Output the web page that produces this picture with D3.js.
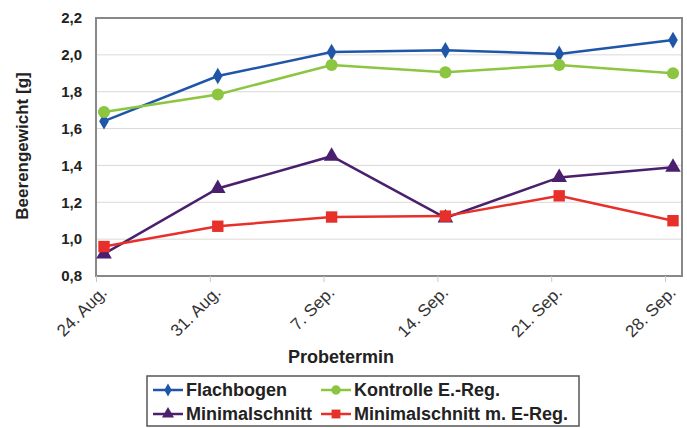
<!DOCTYPE html>
<html>
<head>
<meta charset="utf-8">
<script src="https://cdn.jsdelivr.net/npm/d3@7"></script>
<style>
  body { margin: 0; background: #fff; }
  svg text { font-family: "Liberation Sans", Arial, sans-serif; }
</style>
</head>
<body>
<svg id="chart"></svg>
<script>
// Daten
const termine = ["24. Aug.", "31. Aug.", "7. Sep.", "14. Sep.", "21. Sep.", "28. Sep."];
const flachbogen = [1.64, 1.885, 2.015, 2.025, 2.005, 2.08];
const kontrolle = [1.69, 1.785, 1.945, 1.905, 1.945, 1.90];
const minimalschnitt = [0.92, 1.275, 1.45, 1.115, 1.335, 1.39];
const minimalEReg = [0.96, 1.07, 1.12, 1.125, 1.235, 1.10];
const yTicks = [0.8, 1.0, 1.2, 1.4, 1.6, 1.8, 2.0, 2.2];

const series = [
    { name: "Flachbogen", values: flachbogen, color: "#1f56a8", symbol: d3.symbolDiamond, size: 80 },
    { name: "Kontrolle E.-Reg.", values: kontrolle, color: "#8cc540", symbol: d3.symbolCircle, size: 115 },
    { name: "Minimalschnitt", values: minimalschnitt, color: "#4a1f6e", symbol: d3.symbolTriangle, size: 105 },
    { name: "Minimalschnitt m. E-Reg.", values: minimalEReg, color: "#e8302b", symbol: d3.symbolSquare, size: 130 }
];

const W = 687, H = 428;
const plot = { left: 96, top: 18, right: 682, bottom: 276 };
const svg = d3.select("#chart").attr("width", W).attr("height", H);

// x: Termine als Punkte, Tickmarken leicht links davon
const x = d3.scalePoint().domain(termine).range([104, 673]);
const tickShift = -8;
const y = d3.scaleLinear().domain([0.8, 2.2]).range([plot.bottom, plot.top]);
const fmt = d => d.toFixed(1).replace(".", ",");

// Gitterlinien
svg.append("g")
    .selectAll("line")
    .data(yTicks.slice(1, -1))
    .enter().append("line")
    .attr("x1", plot.left).attr("x2", plot.right)
    .attr("y1", d => y(d)).attr("y2", d => y(d))
    .attr("stroke", "#d9d9d9").attr("stroke-width", 1);

// Rahmen
svg.append("rect")
    .attr("x", plot.left).attr("y", plot.top)
    .attr("width", plot.right - plot.left).attr("height", plot.bottom - plot.top)
    .attr("fill", "none").attr("stroke", "#888").attr("stroke-width", 2);

// y-Achse
const yAxis = svg.append("g")
    .attr("transform", `translate(${plot.left},0)`)
    .call(d3.axisLeft(y).tickValues(yTicks).tickFormat(fmt).tickSize(0).tickPadding(14));
yAxis.select(".domain").remove();
yAxis.selectAll("text")
    .attr("font-size", 15).attr("font-weight", "bold").attr("fill", "#222");

// x-Achse
const xAxis = svg.append("g")
    .attr("transform", `translate(${tickShift},${plot.bottom})`)
    .call(d3.axisBottom(x).tickSize(6).tickFormat(""));
xAxis.select(".domain").remove();
xAxis.selectAll("line").attr("stroke", "#c8c8c8");

xAxis.selectAll(".tick")
    .append("text")
    .attr("transform", "translate(3,9) rotate(-45)")
    .attr("dy", "0.7em")
    .attr("text-anchor", "end")
    .attr("font-size", 17).attr("fill", "#333")
    .text(d => d);

// Achsentitel
svg.append("text")
    .attr("transform", `translate(28,${(plot.top + plot.bottom) / 2 - 1}) rotate(-90)`)
    .attr("text-anchor", "middle")
    .attr("font-size", 17).attr("font-weight", "bold").attr("fill", "#222")
    .text("Beerengewicht [g]");

svg.append("text")
    .attr("x", 341).attr("y", 363)
    .attr("text-anchor", "middle")
    .attr("font-size", 18).attr("font-weight", "bold").attr("fill", "#222")
    .text("Probetermin");

// Linien und Marker
const line = d3.line().x((d, i) => x(termine[i])).y(d => y(d));

series.forEach(s => {
    svg.append("path")
        .datum(s.values)
        .attr("d", line)
        .attr("fill", "none")
        .attr("stroke", s.color)
        .attr("stroke-width", 2.5);

    svg.append("g")
        .selectAll("path")
        .data(s.values)
        .enter().append("path")
        .attr("d", d3.symbol().type(s.symbol).size(s.size))
        .attr("transform", (d, i) => `translate(${x(termine[i])},${y(d)})`)
        .attr("fill", s.color);
});

// Legende
const legend = svg.append("g");
legend.append("rect")
    .attr("x", 147).attr("y", 376)
    .attr("width", 432).attr("height", 50)
    .attr("fill", "#fff").attr("stroke", "#555").attr("stroke-width", 1.5);

const legendPos = [
    { x: 153, y: 390 },
    { x: 321, y: 390 },
    { x: 153, y: 414 },
    { x: 321, y: 414 }
];

series.forEach((s, i) => {
    const p = legendPos[i];
    const lineLen = 30;
    const g = legend.append("g").attr("transform", `translate(${p.x},${p.y})`);
    g.append("line")
        .attr("x1", 0).attr("x2", lineLen)
        .attr("stroke", s.color).attr("stroke-width", 2.5);
    g.append("path")
        .attr("d", d3.symbol().type(s.symbol).size(s.size * 0.6))
        .attr("transform", `translate(${lineLen / 2},0)`)
        .attr("fill", s.color);
    g.append("text")
        .attr("x", lineLen + 3).attr("y", 0).attr("dy", "0.36em")
        .attr("font-size", 18).attr("font-weight", "bold").attr("fill", "#222")
        .text(s.name);
});
</script>
</body>
</html>
